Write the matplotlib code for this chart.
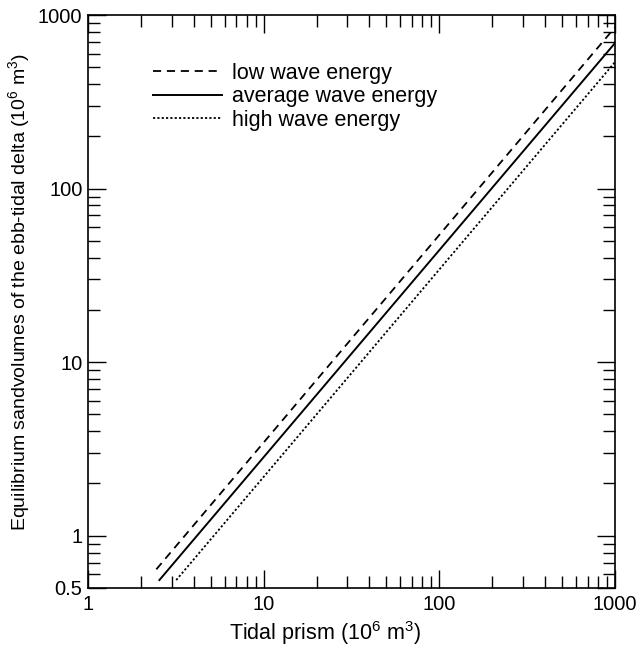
import numpy as np
import matplotlib
matplotlib.use("Agg")
import matplotlib.pyplot as plt
from matplotlib.ticker import LogLocator, NullFormatter, FixedLocator, FixedFormatter

plt.rcParams['font.family'] = ['Liberation Sans', 'DejaVu Sans']
plt.rcParams['mathtext.fontset'] = 'custom'
plt.rcParams['mathtext.rm'] = 'Liberation Sans'
plt.rcParams['mathtext.it'] = 'Liberation Sans'

# values (end points of each straight log-log line)
prism_low = [2.45, 1000]
vol_low = [0.64, 850]
prism_avg = [2.55, 1000]
vol_avg = [0.555, 690]
prism_high = [3.18, 1000]
vol_high = [0.555, 536]

labels = ["low wave energy", "average wave energy", "high wave energy"]
xticks = [1, 10, 100, 1000]
xticklabels = ["1", "10", "100", "1000"]
yticks = [0.5, 1, 10, 100, 1000]
yticklabels = ["0.5", "1", "10", "100", "1000"]

fig = plt.figure(figsize=(6.42, 6.54), dpi=100)
ax = fig.add_axes([0.137, 0.101, 0.821, 0.876])

ax.plot(prism_low, vol_low, color="black", lw=1.3, linestyle=(0, (4.5, 3.2)), label=labels[0])
ax.plot(prism_avg, vol_avg, color="black", lw=1.4, linestyle="-", label=labels[1])
ax.plot(prism_high, vol_high, color="black", lw=1.3, linestyle=(0, (1.2, 1.2)), label=labels[2])

ax.set_xscale("log")
ax.set_yscale("log")
ax.set_xlim(1, 1000)
ax.set_ylim(0.5, 1000)

ax.xaxis.set_major_locator(FixedLocator(xticks))
ax.xaxis.set_major_formatter(FixedFormatter(xticklabels))
ax.xaxis.set_minor_locator(LogLocator(base=10, subs=np.arange(2, 10)))
ax.xaxis.set_minor_formatter(NullFormatter())
ax.yaxis.set_major_locator(FixedLocator(yticks))
ax.yaxis.set_major_formatter(FixedFormatter(yticklabels))
ax.yaxis.set_minor_locator(LogLocator(base=10, subs=np.arange(2, 10)))
ax.yaxis.set_minor_formatter(NullFormatter())

ax.tick_params(which="both", direction="in", top=True, right=True, width=1.0)
ax.tick_params(which="major", length=13, labelsize=14.5)
ax.tick_params(axis="x", which="major", pad=5)
ax.tick_params(axis="y", which="major", pad=4)
ax.tick_params(which="minor", length=8.5)
for s in ax.spines.values():
    s.set_linewidth(1.2)

ax.set_xlabel("Tidal prism (10$^6$ m$^3$)", fontsize=15.5, labelpad=5)
ax.xaxis.set_label_coords(0.45, -0.055)
ax.set_ylabel("Equilibrium sandvolumes of the ebb-tidal delta (10$^6$ m$^3$)", fontsize=14, labelpad=4)
ax.yaxis.set_label_coords(-0.106, 0.517)

ax.legend(loc="upper left", bbox_to_anchor=(0.123, 0.917), frameon=False, fontsize=15.5,
          handlelength=3.2, handletextpad=0.47, labelspacing=0.12, borderpad=0, borderaxespad=0)

fig.savefig("out.png", dpi=100)
